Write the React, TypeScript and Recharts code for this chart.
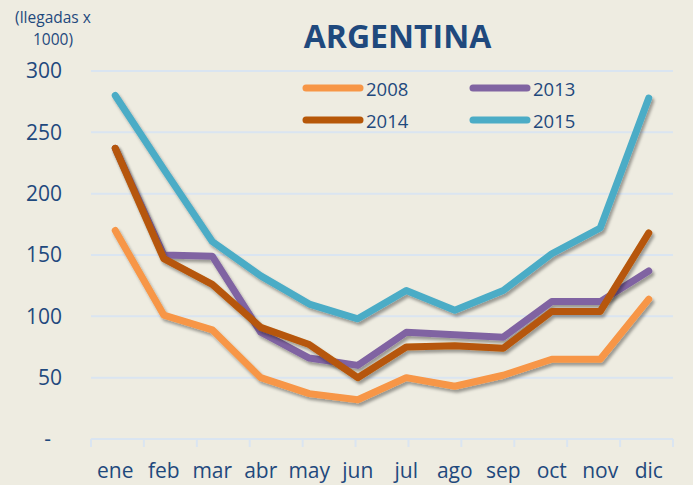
import React from 'react';
import { LineChart, Line, XAxis, YAxis, CartesianGrid, Legend } from 'recharts';

const months = ['ene', 'feb', 'mar', 'abr', 'may', 'jun', 'jul', 'ago', 'sep', 'oct', 'nov', 'dic'];
const s2008 = [170, 101, 89, 50, 37, 32, 50, 43, 52, 65, 65, 114];
const s2013 = [237, 150, 149, 87, 66, 60, 87, 85, 83, 112, 112, 137];
const s2014 = [237, 147, 126, 91, 77, 50, 75, 76, 74, 104, 104, 168];
const s2015 = [280, 220, 161, 133, 110, 98, 121, 105, 121, 151, 172, 278];
const yTicks = [0, 50, 100, 150, 200, 250, 300];
const boundaryTicks = [0, 1, 2, 3, 4, 5, 6, 7, 8, 9, 10, 11, 12];

const series = [
  { key: 'y2008', name: '2008', color: '#F79646', values: s2008 },
  { key: 'y2013', name: '2013', color: '#8064A2', values: s2013 },
  { key: 'y2014', name: '2014', color: '#B65708', values: s2014 },
  { key: 'y2015', name: '2015', color: '#4BACC6', values: s2015 },
];

const data = months.map((m, i) => {
  const row: Record<string, number | string> = { month: m };
  series.forEach((s) => {
    row[s.key] = s.values[i];
  });
  return row;
});

const TEXT = '#1F497D';
const FONT = '"Open Sans", sans-serif';
const GRID = '#DAE5F1';

const legendOrder = ['2008', '2013', '2014', '2015'];

const LegendContent = () => (
  <div
    style={{
      display: 'grid',
      gridTemplateColumns: '167px 120px',
      rowGap: 6,
      fontFamily: FONT,
      fontSize: 18.5,
      color: TEXT,
    }}
  >
    {legendOrder.map((n) => {
      const s = series.find((x) => x.name === n)!;
      return (
        <div key={n} style={{ display: 'flex', alignItems: 'center', height: 26 }}>
          <svg width={62} height={12} style={{ marginRight: 2 }}>
            <line x1={4} y1={6} x2={58} y2={6} stroke={s.color} strokeWidth={7} strokeLinecap="round" />
          </svg>
          <span>{n}</span>
        </div>
      );
    })}
  </div>
);

export default function App() {
  return (
    <div
      style={{
        position: 'absolute',
        left: 0,
        top: 0,
        width: 693,
        height: 485,
        background: '#EEECE1',
        overflow: 'hidden',
      }}
    >
      <div
        style={{
          position: 'absolute',
          left: 0,
          width: 106,
          top: 6,
          textAlign: 'center',
          fontFamily: FONT,
          fontSize: 15.5,
          lineHeight: '22px',
          color: TEXT,
        }}
      >
        (llegadas x<br />1000)
      </div>
      <div
        style={{
          position: 'absolute',
          left: 250,
          width: 295,
          top: 14,
          textAlign: 'center',
          fontFamily: FONT,
          fontSize: 32,
          fontWeight: 700,
          color: TEXT,
          lineHeight: '44px',
        }}
      >
        ARGENTINA
      </div>
      <LineChart
        width={693}
        height={485}
        data={data}
        margin={{ top: 71, right: 20, bottom: 0, left: 0 }}
        style={{ position: 'absolute', left: 0, top: 0 }}
      >
        <defs>
          <filter id="shadow" x="-10%" y="-10%" width="130%" height="140%">
            <feDropShadow dx="2" dy="3" stdDeviation="1.6" floodColor="#000" floodOpacity="0.35" />
          </filter>
        </defs>
        <CartesianGrid vertical={false} stroke={GRID} strokeWidth={2} xAxisId="m" />
        <XAxis
          type="number"
          domain={[0, 12]}
          allowDataOverflow={true}
          ticks={boundaryTicks}
          interval={0}
          tickFormatter={() => ''}
          tickSize={8}
          height={1}
          axisLine={{ stroke: GRID, strokeWidth: 2 }}
          tickLine={{ stroke: GRID, strokeWidth: 2 }}
        />
        <XAxis
          xAxisId="m"
          dataKey="month"
          scale="band"
          height={45}
          axisLine={false}
          tickLine={false}
          tickSize={0}
          tickMargin={23}
          interval={0}
          tick={{ fill: TEXT, fontFamily: FONT, fontSize: 21 }}
        />
        <YAxis
          width={91}
          domain={[0, 300]}
          ticks={yTicks}
          axisLine={false}
          tickLine={false}
          tickSize={0}
          tickMargin={29}
          tickFormatter={(v: number) => (v === 0 ? '-\u00A0\u00A0' : String(v))}
          tick={{ fill: TEXT, fontFamily: FONT, fontSize: 21 }}
        />
        <Legend
          layout="vertical"
          align="center"
          verticalAlign="middle"
          content={<LegendContent />}
          wrapperStyle={{ position: 'absolute', left: 302, top: 75, width: 300 }}
        />
        {series.map((s) => (
          <Line
            key={s.key}
            xAxisId="m"
            dataKey={s.key}
            name={s.name}
            stroke={s.color}
            strokeWidth={7}
            strokeLinecap="round"
            strokeLinejoin="round"
            dot={false}
            activeDot={false}
            filter="url(#shadow)"
            isAnimationActive={false}
          />
        ))}
      </LineChart>
    </div>
  );
}
